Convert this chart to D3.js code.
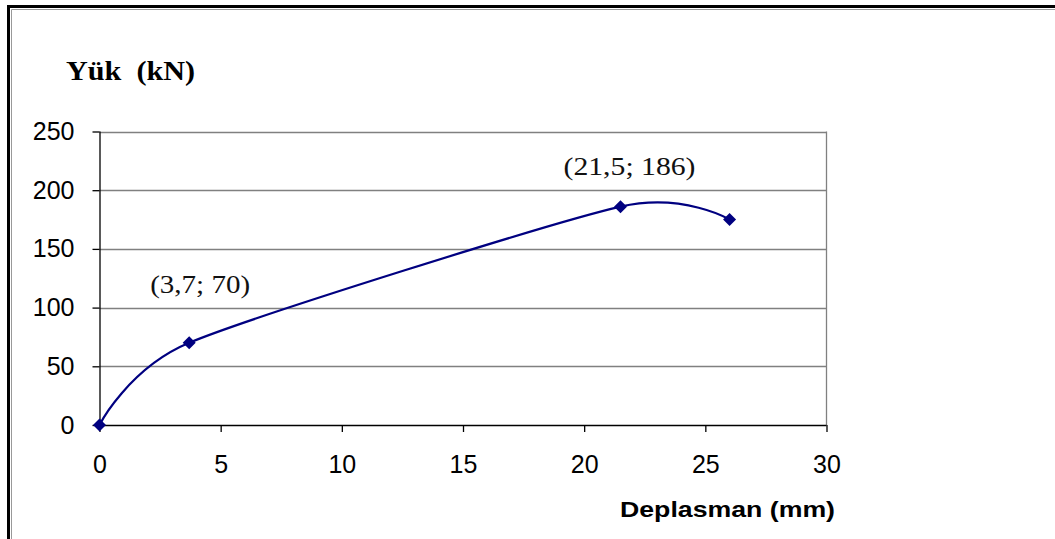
<!DOCTYPE html>
<html><head><meta charset="utf-8">
<script src="https://cdn.jsdelivr.net/npm/d3@7"></script>
<style>
html,body{margin:0;padding:0;background:#fff;}
svg{display:block;}
</style></head>
<body>
<svg id="chart" width="1055" height="539"></svg>
<script>
const xValues = [0, 3.7, 21.5, 26];
const yValues = [0, 70, 186, 175];
const xTicks = [0, 5, 10, 15, 20, 25, 30];
const yTicks = [0, 50, 100, 150, 200, 250];
const annotationLabels = ["(3,7; 70)", "(21,5; 186)"];
const annotationIndex = [1, 2];
const yTitle = "Yük  (kN)";
const xTitle = "Deplasman (mm)";

// layout (not data)
const labelLayout = [{dx: 11, dy: -50, len: 100}, {dx: 9, dy: -32, len: 132}];

const svg = d3.select("#chart");
const x = d3.scaleLinear().domain([0, 30]).range([99.5, 826.5]);
const y = d3.scaleLinear().domain([0, 250]).range([425, 131.5]);

// outer frame
svg.append("path").attr("d", "M8.5,545 L8.5,6.5 L1060,6.5").attr("fill","none").attr("stroke","#000").attr("stroke-width",3);
svg.append("path").attr("d", "M11.5,545 L11.5,9.5 L1060,9.5").attr("fill","none").attr("stroke","#999").attr("stroke-width",1);

// gridlines
svg.append("g").selectAll("line").data(yTicks.filter(d => d > 0)).join("line")
  .attr("x1", x(0)).attr("x2", x(30))
  .attr("y1", d => Math.round(y(d)) + 0.5).attr("y2", d => Math.round(y(d)) + 0.5)
  .attr("stroke", "#808080").attr("stroke-width", 1.3);
svg.append("line").attr("x1", x(30)).attr("x2", x(30)).attr("y1", y(250)).attr("y2", y(0))
  .attr("stroke", "#808080").attr("stroke-width", 1.3);

// axes
const yAxis = d3.axisLeft(y).tickValues(yTicks).tickSize(7).tickPadding(18).tickFormat(d3.format("d"));
const gy = svg.append("g").attr("transform", `translate(${x(0)},0)`).call(yAxis);
const xAxis = d3.axisBottom(x).tickValues(xTicks).tickSize(7).tickPadding(23).tickFormat(d3.format("d"));
const gx = svg.append("g").attr("transform", `translate(0,${y(0)})`).call(xAxis);
[gx, gy].forEach(g => {
  g.select(".domain").attr("stroke", "#000").attr("stroke-width", 1.3);
  g.selectAll(".tick line").attr("stroke", "#000").attr("stroke-width", 1.3);
  g.selectAll(".tick text").attr("font-family", "Liberation Sans, Arial, sans-serif").attr("font-size", 25).attr("fill", "#000");
});
gx.select(".domain").attr("d", `M${x(0)},0.5H${x(30)}`);
gy.select(".domain").attr("d", `M0.5,${y(250)}V${y(0)}`);

// line
const pts = xValues.map((d, i) => [d, yValues[i]]);
const line = d3.line().x(d => x(d[0])).y(d => y(d[1])).curve(d3.curveCardinal.tension(0.3));
svg.append("path").datum(pts).attr("d", line).attr("fill", "none").attr("stroke", "#000080").attr("stroke-width", 2.2);

// markers
svg.append("g").selectAll("path").data(pts).join("path")
  .attr("transform", d => `translate(${x(d[0])},${y(d[1])})`)
  .attr("d", "M0,-6.5 L6.5,0 L0,6.5 L-6.5,0 Z")
  .attr("fill", "#000080");

// annotations
svg.append("g").selectAll("text").data(annotationLabels).join("text")
  .attr("x", (d, i) => x(xValues[annotationIndex[i]]) + labelLayout[i].dx)
  .attr("y", (d, i) => y(yValues[annotationIndex[i]]) + labelLayout[i].dy)
  .attr("text-anchor", "middle")
  .attr("textLength", (d, i) => labelLayout[i].len).attr("lengthAdjust", "spacingAndGlyphs")
  .attr("font-family", "Liberation Serif, Times New Roman, serif").attr("font-size", 25)
  .attr("fill", "#111")
  .text(d => d);

// titles
svg.append("text").attr("x", 66).attr("y", 80)
  .attr("font-family", "Liberation Serif, Times New Roman, serif").attr("font-weight", "bold").attr("font-size", 27)
  .attr("textLength", 129).attr("lengthAdjust", "spacingAndGlyphs")
  .style("white-space", "pre")
  .text(yTitle);
svg.append("text").attr("x", 620).attr("y", 517)
  .attr("font-family", "Liberation Sans, Arial, sans-serif").attr("font-weight", "bold").attr("font-size", 22)
  .attr("textLength", 215).attr("lengthAdjust", "spacingAndGlyphs")
  .text(xTitle);
</script>
</body></html>
